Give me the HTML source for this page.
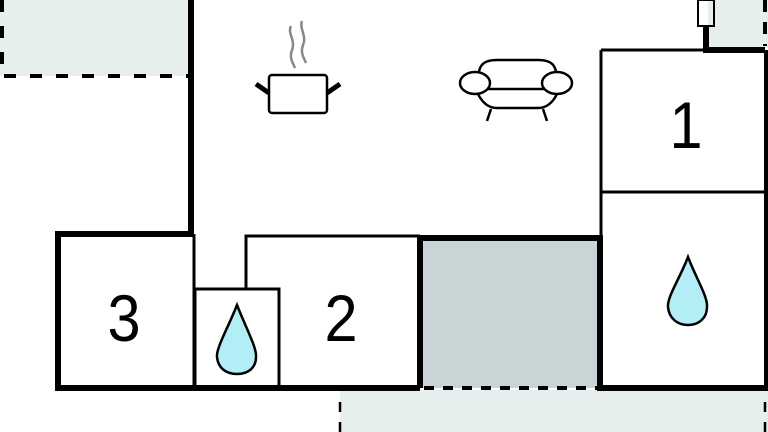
<!DOCTYPE html>
<html><head><meta charset="utf-8"><style>
html,body{margin:0;padding:0;background:#fff;}
svg{display:block}
text{font-family:"Liberation Sans",sans-serif;}
</style></head><body>
<svg width="768" height="432" viewBox="0 0 768 432">
<rect x="0" y="0" width="190" height="76" fill="#e6eeee"/>
<rect x="340" y="390" width="428" height="42" fill="#e6eeee"/>
<rect x="708" y="0" width="60" height="48" fill="#e6eeee"/>
<rect x="420" y="238" width="180" height="150" fill="#c8d4d6"/>
<path d="M2 0V76H190" fill="none" stroke="#000" stroke-width="4" stroke-dasharray="12 14"/>
<path d="M340 432V392" fill="none" stroke="#000" stroke-width="2.5" stroke-dasharray="10 10"/>
<path d="M765 432V392" fill="none" stroke="#000" stroke-width="2.5" stroke-dasharray="10 10"/>
<path d="M765 0V46" fill="none" stroke="#000" stroke-width="4" stroke-dasharray="12 10"/>
<path d="M424 388H600" fill="none" stroke="#000" stroke-width="4" stroke-dasharray="10 9"/>
<g fill="none" stroke="#000" stroke-width="6">
<path d="M191 0V234H58V388H420"/>
<path d="M420 388V238H600V388H767V50"/>
<path d="M706 26V50H765"/>
</g>
<g fill="none" stroke="#000" stroke-width="3">
<path d="M601 50H706"/>
<path d="M601 50V388"/>
<path d="M601 192H765"/>
<path d="M194 234V388"/>
<path d="M246 289V236H420"/>
<rect x="195" y="289" width="84" height="99"/>
<rect x="698" y="0" width="16" height="26" stroke-width="2"/>
</g>
<g font-size="66" text-anchor="middle">
<text x="686" y="148" transform="translate(686 0) scale(0.9 1) translate(-686 0)">1</text>
<text x="341" y="341" transform="translate(341 0) scale(0.9 1) translate(-341 0)">2</text>
<text x="124" y="341" transform="translate(124 0) scale(0.9 1) translate(-124 0)">3</text>
</g>
<g fill="#b3eef6" stroke="#000" stroke-width="2.5">
<path d="M237 305 C228 328 216 348 217 357 C218 368 226 374 237 374 C248 374 256 368 256 357 C257 348 246 328 237 305Z"/>
<path d="M688 257 C680 278 667 297 668 307 C669 318 677 325 688 325 C699 325 707 318 707 307 C708 297 696 278 688 257Z"/>
</g>
<g fill="none" stroke="#000" stroke-width="2.5">
<rect x="269" y="75" width="58" height="38" rx="3" fill="#fff"/>
<path d="M256 84L269 93M340 84L327 93" stroke-width="5"/>
</g>
<g fill="none" stroke="#888" stroke-width="2.5">
<path d="M291 26C287 33 296 40 292 50C289 58 293 63 295 68"/>
<path d="M302 21C299 28 307 36 303 45C300 53 304 58 306 63"/>
</g>
<g fill="#fff" stroke="#000" stroke-width="2.5">
<path d="M478 82C478 66 482 60 497 60H538C553 60 557 66 557 82V94C552 104 545 108 538 108H497C490 108 483 104 478 94Z"/>
<path d="M478 89H557" fill="none"/>
<ellipse cx="475" cy="83" rx="15" ry="11"/>
<ellipse cx="557" cy="83" rx="15" ry="11"/>
<path d="M491 109L487 121M543 109L547 121" fill="none"/>
</g>
</svg>
</body></html>
